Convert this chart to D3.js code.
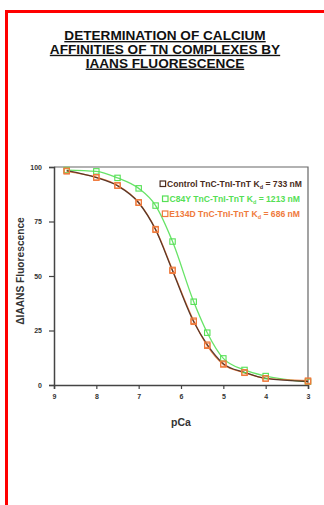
<!DOCTYPE html>
<html>
<head>
<meta charset="utf-8">
<script src="https://cdn.jsdelivr.net/npm/d3@7"></script>
<style>
  body { margin: 0; background: #fff; }
  text { font-family: "Liberation Sans", Arial, sans-serif; }
</style>
</head>
<body>
<div id="chart"></div>
<script>
// pCa values where IAANS fluorescence was measured
const pCa = [8.7, 8.0, 7.5, 7.0, 6.6, 6.2, 5.7, 5.38, 5.0, 4.5, 4.0, 3.0];

// relative fluorescence (%)
const control = [98.3, 95.1, 91.4, 83.6, 71.2, 52.4, 29.0, 18.5, 9.8, 5.8, 3.0, 1.6];
const c84y    = [98.6, 98.0, 95.0, 90.2, 82.3, 65.8, 38.2, 24.0, 12.2, 6.9, 4.1, 1.5];
const e134d   = [98.0, 95.3, 91.6, 83.8, 71.5, 52.8, 29.5, 18.0, 9.4, 5.6, 3.0, 2.0];

const seriesNames = ["Control", "C84Y", "E134D"];
const kdValues = [733, 1213, 686];
const seriesColors = ["#4a2c20", "#55e055", "#ef7a3c"];

const titleLines = ["DETERMINATION OF CALCIUM", "AFFINITIES OF TN COMPLEXES BY", "IAANS FLUORESCENCE"];
const xTicks = [9, 8, 7, 6, 5, 4, 3];
const yTicks = [0, 25, 50, 75, 100];

const W = 324, H = 505;
const margin = {top: 167, right: 16, bottom: 120, left: 54};
const width = W - margin.left - margin.right;
const height = H - margin.top - margin.bottom;

const svg = d3.select("#chart").append("svg")
    .attr("width", W)
    .attr("height", H);

// red frame (cut off right and bottom)
svg.append("path")
    .attr("d", `M6.5,${H} L6.5,11.5 L${W},11.5`)
    .attr("fill", "none")
    .attr("stroke", "#ff0000")
    .attr("stroke-width", 3);

// title
svg.append("g").selectAll("text")
    .data(titleLines)
    .enter().append("text")
    .attr("x", 165)
    .attr("y", (d, i) => 40 + i * 13.8)
    .attr("text-anchor", "middle")
    .attr("font-size", "13.6px")
    .attr("font-weight", "bold")
    .attr("fill", "#111")
    .style("text-decoration", "underline")
    .text(d => d);

const g = svg.append("g")
    .attr("transform", `translate(${margin.left},${margin.top})`);

const x = d3.scaleLinear().domain([9, 3]).range([0, width]);
const y = d3.scaleLinear().domain([0, 100]).range([height, 0]);

// frame top + right
g.append("path")
    .attr("d", `M0,0 H${width} V${height}`)
    .attr("fill", "none")
    .attr("stroke", "#666")
    .attr("stroke-width", 1.2);

// axes
const xAxis = g.append("g")
    .attr("transform", `translate(0,${height})`)
    .call(d3.axisBottom(x).tickValues(xTicks).tickFormat(d3.format("d")).tickSize(4).tickPadding(5));
const yAxis = g.append("g")
    .call(d3.axisLeft(y).tickValues(yTicks).tickSize(5).tickPadding(7));

[xAxis, yAxis].forEach(a => {
    a.select(".domain").attr("stroke", "#444").attr("stroke-width", 1.5);
    a.selectAll(".tick line").attr("stroke", "#444").attr("stroke-width", 1.2);
    a.selectAll(".tick text")
        .attr("font-size", "7px")
        .attr("font-weight", "bold")
        .attr("fill", "#333")
        .style("font-family", "Liberation Sans, Arial, sans-serif");
});

// axis titles
g.append("text")
    .attr("x", width / 2)
    .attr("y", height + 41)
    .attr("text-anchor", "middle")
    .attr("font-size", "10.5px")
    .attr("font-weight", "bold")
    .attr("fill", "#333")
    .text("pCa");

g.append("text")
    .attr("transform", `translate(-30,104) rotate(-90)`)
    .attr("text-anchor", "middle")
    .attr("font-size", "10.2px")
    .attr("font-weight", "bold")
    .attr("fill", "#333")
    .text("ΔIAANS Fluorescence");

const allSeries = [control, c84y, e134d].map((vals, i) => ({
    name: seriesNames[i],
    color: seriesColors[i],
    values: vals.map((v, j) => ({x: pCa[j], y: v}))
}));

const line = d3.line()
    .x(d => x(d.x))
    .y(d => y(d.y))
    .curve(d3.curveMonotoneX);

// draw order: green, orange, control on top
const order = [1, 2, 0];
order.forEach(i => {
    const s = allSeries[i];
    g.append("path")
        .datum(s.values)
        .attr("fill", "none")
        .attr("stroke", s.color)
        .attr("stroke-width", 1.3)
        .attr("opacity", 0.9)
        .attr("d", line);
});

order.forEach(i => {
    const s = allSeries[i];
    g.append("g").selectAll("rect")
        .data(s.values)
        .enter().append("rect")
        .attr("x", d => x(d.x) - 2.7)
        .attr("y", d => y(d.y) - 2.7)
        .attr("width", 5.4)
        .attr("height", 5.4)
        .attr("fill", "none")
        .attr("stroke", i === 0 ? seriesColors[2] : s.color)
        .attr("stroke-width", 1.1);
});

// legend, right-aligned to the frame
const legend = g.append("g");
const legendRight = [248, 246, 246];
const legendY = [20, 35, 50];

allSeries.forEach((s, i) => {
    const row = legend.append("g");
    const t = row.append("text")
        .attr("x", legendRight[i])
        .attr("y", legendY[i])
        .attr("text-anchor", "end")
        .attr("font-size", "8.6px")
        .attr("font-weight", "bold")
        .attr("fill", s.color);
    t.append("tspan").text(`${s.name} TnC-TnI-TnT K`);
    t.append("tspan").attr("font-size", "5.5px").attr("dy", 1.8).text("d");
    t.append("tspan").attr("dy", -1.8).text(` = ${kdValues[i]} nM`);

    const bb = t.node().getBBox();
    row.append("rect")
        .attr("x", bb.x - 7)
        .attr("y", legendY[i] - 6)
        .attr("width", 5.5).attr("height", 5.5)
        .attr("fill", "none")
        .attr("stroke", s.color)
        .attr("stroke-width", 1.2);
});
</script>
</body>
</html>
